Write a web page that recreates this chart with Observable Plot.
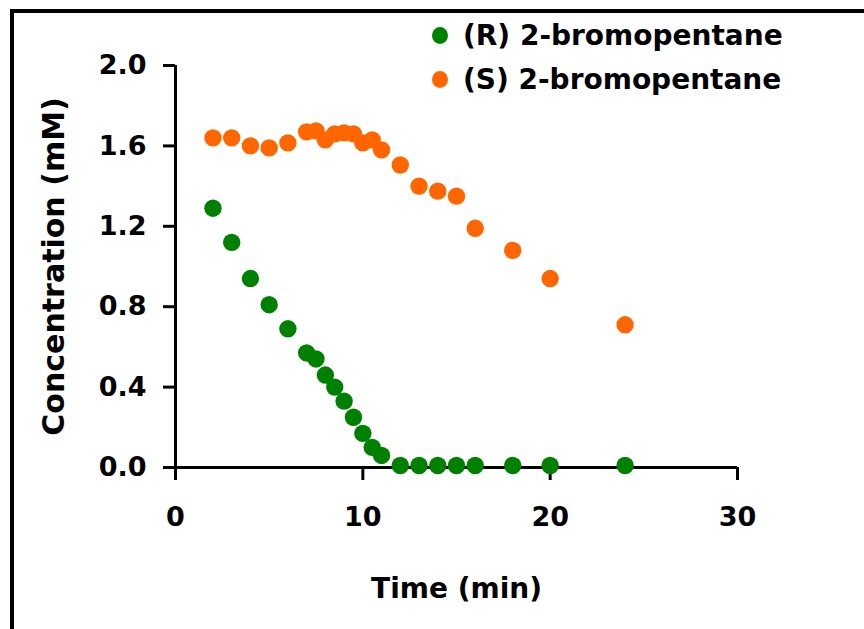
<!DOCTYPE html>
<html>
<head>
<meta charset="utf-8">
<script src="https://cdn.jsdelivr.net/npm/d3@7"></script>
<script src="https://cdn.jsdelivr.net/npm/@observablehq/plot@0.6"></script>
<style>
  html, body { margin: 0; padding: 0; background: #fff; overflow: hidden; }
  #wrap { position: relative; width: 864px; height: 629px; }
  #frame { position: absolute; left: 10px; top: 9px; width: 900px; height: 700px;
           border-left: 4.5px solid #000; border-top: 4.5px solid #000; pointer-events: none; }
  #legend { position: absolute; left: 432px; top: 13px; font-family: "DejaVu Sans", sans-serif;
            font-weight: bold; font-size: 28px; color: #000; }
  .item { display: flex; align-items: center; height: 44px; }
  .sw { width: 16px; height: 17px; border-radius: 50%; margin-right: 15px; }
</style>
</head>
<body>
<div id="wrap"><div id="frame"></div><div id="legend"></div></div>
<script>
const times = [2, 3, 4, 5, 6, 7, 7.5, 8, 8.5, 9, 9.5, 10, 10.5, 11, 12, 13, 14, 15, 16, 18, 20, 24];
const rValues = [1.29, 1.12, 0.94, 0.81, 0.69, 0.57, 0.54, 0.46, 0.40, 0.33, 0.25, 0.17, 0.10, 0.06, 0.01, 0.01, 0.01, 0.01, 0.01, 0.01, 0.01, 0.01];
const sValues = [1.64, 1.64, 1.60, 1.59, 1.615, 1.67, 1.675, 1.63, 1.66, 1.665, 1.66, 1.615, 1.63, 1.58, 1.505, 1.40, 1.375, 1.35, 1.19, 1.08, 0.94, 0.71];
const seriesNames = ["(R) 2-bromopentane", "(S) 2-bromopentane"];
const seriesColors = ["#008000", "#ff6600"];
const xTicks = [0, 10, 20, 30];
const yTicks = [0, 0.4, 0.8, 1.2, 1.6, 2.0];
const xLabel = "Time (min)";
const yLabel = "Concentration (mM)";

const data = [];
times.forEach((t, i) => data.push({time: t, conc: rValues[i], series: seriesNames[0]}));
times.forEach((t, i) => data.push({time: t, conc: sValues[i], series: seriesNames[1]}));

const chart = Plot.plot({
  width: 864,
  height: 629,
  marginLeft: 175,
  marginRight: 127,
  marginTop: 65,
  marginBottom: 162,
  style: {fontFamily: "DejaVu Sans, sans-serif", fontWeight: "bold", fontSize: "27px", color: "#000", background: "transparent"},
  x: {domain: [0, 30]},
  y: {domain: [0, 2]},
  color: {domain: seriesNames, range: seriesColors},
  marks: [
    Plot.axisX({ticks: xTicks, tickSize: 13, tickPadding: 26, strokeWidth: 3, fontSize: 27,
      label: xLabel, labelAnchor: "center", labelOffset: 130, labelArrow: "none"}),
    Plot.axisY({ticks: yTicks, tickFormat: d3.format(".1f"), tickSize: 12, tickPadding: 17, strokeWidth: 3, fontSize: 27,
      label: yLabel, labelAnchor: "center", labelOffset: 133, labelArrow: "none"}),
    Plot.ruleX([0], {stroke: "#000", strokeWidth: 3}),
    Plot.ruleY([0], {stroke: "#000", strokeWidth: 3}),
    Plot.dot(data, {x: "time", y: "conc", fill: "series", r: 8.7, stroke: "none"})
  ]
});
const xl = chart.querySelector('g[aria-label="x-axis label"]');
if (xl) xl.setAttribute("font-size", 28);
const yl = chart.querySelector('g[aria-label="y-axis label"]');
if (yl) yl.setAttribute("font-size", 30);
document.getElementById("wrap").prepend(chart);

const legend = document.getElementById("legend");
seriesNames.forEach((name, i) => {
  const it = document.createElement("div");
  it.className = "item";
  const sw = document.createElement("span");
  sw.className = "sw";
  sw.style.background = seriesColors[i];
  const tx = document.createElement("span");
  tx.textContent = name;
  it.appendChild(sw);
  it.appendChild(tx);
  legend.appendChild(it);
});
</script>
</body>
</html>
